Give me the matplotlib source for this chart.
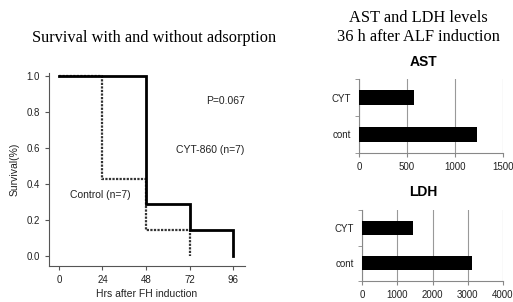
import matplotlib
matplotlib.use("Agg")
import matplotlib.pyplot as plt
import numpy as np

plt.rcParams['font.family'] = ['Liberation Sans', 'DejaVu Sans']

# survival data (step functions)
cyt_hrs = [0, 48, 48, 72, 72, 96, 96]
cyt_surv = [1.0, 1.0, 0.286, 0.286, 0.143, 0.143, 0.0]
ctl_hrs = [0, 24, 24, 48, 48, 72, 72]
ctl_surv = [1.0, 1.0, 0.429, 0.429, 0.143, 0.143, 0.0]
hr_ticks = [0, 24, 48, 72, 96]
surv_ticks = [0.0, 0.2, 0.4, 0.6, 0.8, 1.0]

# AST / LDH levels
groups = ['cont', 'CYT']
ast_vals = [1232, 573]
ldh_vals = [3112, 1447]
ast_ticks = [0, 500, 1000, 1500]
ldh_ticks = [0, 1000, 2000, 3000, 4000]

W, H = 513, 302
fig = plt.figure(figsize=(W / 100, H / 100), dpi=100)

def box(x0, y0, x1, y1):
    return [x0 / W, 1 - y1 / H, (x1 - x0) / W, (y1 - y0) / H]

serif = 'Liberation Serif'
fig.text(154 / W, 1 - 38 / H, 'Survival with and without adsorption',
         family=serif, fontsize=11.8, ha='center', va='center')
fig.text(418 / W, 1 - 18 / H, 'AST and LDH levels',
         family=serif, fontsize=11.8, ha='center', va='center')
fig.text(418 / W, 1 - 37 / H, '36 h after ALF induction',
         family=serif, fontsize=11.8, ha='center', va='center')

# survival plot
ax = fig.add_axes(box(49, 73, 245, 266))
ax.plot(ctl_hrs, ctl_surv, color='#333333', lw=1.6, ls=(0, (1, 0.6)))
ax.plot(cyt_hrs, cyt_surv, color='black', lw=2.0, solid_joinstyle='miter')
ax.set_xlim(-5.5, 102.6)
ax.set_ylim(-0.056, 1.017)
ax.set_xticks(hr_ticks)
ax.set_yticks(surv_ticks)
ax.set_yticklabels([f'{v:.1f}' for v in surv_ticks])
for s in ['top', 'right']:
    ax.spines[s].set_visible(False)
for s in ['left', 'bottom']:
    ax.spines[s].set_color('#555555')
ax.tick_params(labelsize=7, length=3, color='#555555', labelcolor='#222222')
ax.set_xlabel('Hrs after FH induction', fontsize=7.5, color='#222222', labelpad=3)
ax.set_ylabel('Survival(%)', fontsize=7.5, color='#222222', labelpad=5)
ax.text(102.4, 0.86, 'P=0.067', fontsize=7.5, ha='right', va='center', color='#222222')
ax.text(102.4, 0.59, 'CYT-860 (n=7)', fontsize=7.5, ha='right', va='center', color='#222222')
ax.text(6, 0.34, 'Control (n=7)', fontsize=7.5, ha='left', va='center', color='#222222')


def barplot(rect, vals, ticks, title, title_y):
    bx = fig.add_axes(rect)
    y = np.arange(len(groups))
    bx.barh(y, vals, height=0.39, color='black', zorder=3)
    bx.set_xlim(ticks[0], ticks[-1])
    bx.set_ylim(-0.5, len(groups) - 0.5)
    bx.set_xticks(ticks)
    bx.set_yticks(y)
    bx.set_yticklabels(groups)
    bx.set_yticks([-0.5, 0.5, 1.5], minor=True)
    bx.tick_params(axis='y', which='major', length=0, pad=6)
    bx.tick_params(axis='y', which='minor', length=3, color='#888888')
    bx.tick_params(axis='x', length=3, color='#888888')
    bx.tick_params(labelsize=7, labelcolor='#222222')
    bx.grid(axis='x', color='#999999', lw=0.8, zorder=0)
    for s in ['top', 'right']:
        bx.spines[s].set_visible(False)
    for s in ['left', 'bottom']:
        bx.spines[s].set_color('#888888')
    fig.text(423 / W, 1 - title_y / H, title, fontsize=10, fontweight='bold',
             ha='center', va='center')
    return bx

barplot(box(359, 79, 503, 153), ast_vals, ast_ticks, 'AST', 62)
barplot(box(362, 210, 503, 281), ldh_vals, ldh_ticks, 'LDH', 192)

fig.savefig('out.png', dpi=100)
